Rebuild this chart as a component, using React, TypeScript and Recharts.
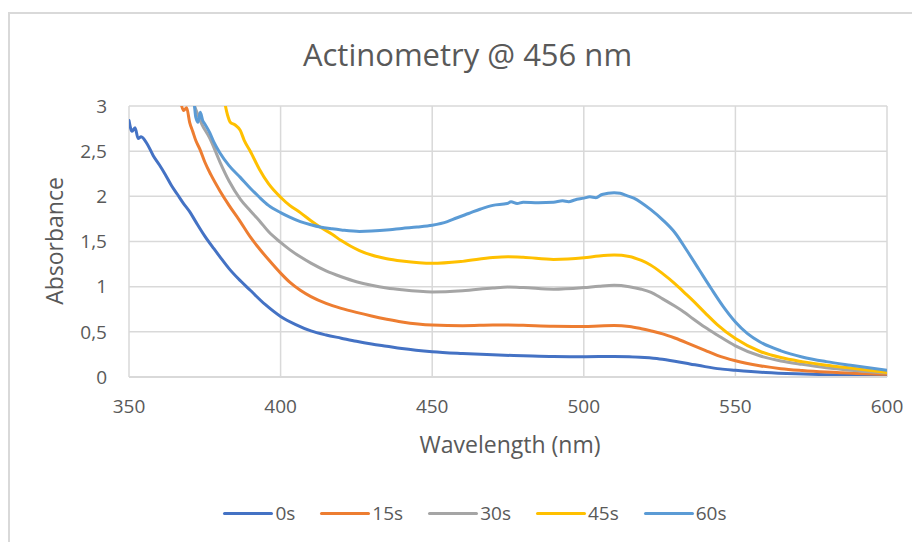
import React from "react";
import { LineChart, Line, XAxis, YAxis, CartesianGrid } from "recharts";

const TITLE = "Actinometry @ 456 nm";
const X_TITLE = "Wavelength (nm)";
const Y_TITLE = "Absorbance";

const xTicks = [350, 400, 450, 500, 550, 600];
const yTicks = [0, 0.5, 1, 1.5, 2, 2.5, 3];

const seriesNames = ["0s", "15s", "30s", "45s", "60s"];
const seriesColors = ["#4472C4", "#ED7D31", "#A5A5A5", "#FFC000", "#5B9BD5"];

// [wavelength nm, absorbance]
const s0: [number, number][] = [
  [350, 2.84], [351, 2.72], [352, 2.76], [353, 2.64], [354, 2.66], [356, 2.58], [358, 2.45],
  [360, 2.35], [362, 2.24], [364, 2.12], [366, 2.02], [368, 1.92], [370, 1.83], [372, 1.72],
  [375, 1.56], [378, 1.42], [380, 1.33], [383, 1.2], [386, 1.09], [390, 0.96], [395, 0.8],
  [400, 0.67], [405, 0.58], [410, 0.51], [415, 0.465], [420, 0.43], [425, 0.395], [430, 0.365],
  [435, 0.34], [440, 0.315], [450, 0.28], [460, 0.26], [470, 0.245], [480, 0.235], [490, 0.226],
  [500, 0.225], [510, 0.228], [515, 0.225], [520, 0.215], [525, 0.2], [530, 0.175], [535, 0.145],
  [540, 0.115], [545, 0.09], [550, 0.075], [560, 0.05], [570, 0.035], [580, 0.025], [590, 0.02],
  [600, 0.015],
];

const s15: [number, number][] = [
  [367, 3.05], [368, 2.95], [369, 2.98], [370, 2.82], [371, 2.72], [372, 2.62], [373.4, 2.52],
  [375, 2.38], [377, 2.24], [380, 2.06], [383, 1.9], [386.7, 1.72], [390, 1.55], [393, 1.42],
  [396, 1.3], [400, 1.15], [403, 1.05], [406.5, 0.96], [410, 0.89], [415, 0.815], [420, 0.76],
  [425, 0.715], [430, 0.675], [435, 0.64], [440, 0.61], [450, 0.575], [460, 0.568], [470, 0.575],
  [475, 0.576], [480, 0.572], [490, 0.562], [500, 0.56], [505, 0.565], [510, 0.57], [515, 0.56],
  [519, 0.535], [522, 0.512], [526, 0.478], [530, 0.432], [535, 0.365], [540, 0.295], [544, 0.24],
  [550, 0.18], [558, 0.125], [565, 0.092], [572, 0.072], [580, 0.055], [590, 0.04], [600, 0.03],
];

const s30: [number, number][] = [
  [371, 3.05], [373, 2.88], [374, 2.8], [376.7, 2.64], [380, 2.38], [383, 2.17], [386.7, 1.97],
  [390, 1.84], [393, 1.73], [396, 1.61], [400, 1.49], [403, 1.41], [406.5, 1.33], [410, 1.26],
  [415, 1.175], [420, 1.11], [425, 1.055], [430, 1.015], [435, 0.985], [440, 0.965], [450, 0.942],
  [460, 0.955], [470, 0.985], [475, 0.995], [480, 0.99], [490, 0.972], [500, 0.99], [505, 1.005],
  [510, 1.015], [515, 1.0], [519, 0.972], [522, 0.94], [526, 0.865], [530, 0.785], [533, 0.72],
  [536, 0.645], [540, 0.55], [544, 0.465], [550, 0.345], [558, 0.235], [565, 0.178], [572, 0.14],
  [580, 0.103], [588, 0.076], [600, 0.045],
];

const s45: [number, number][] = [
  [381.5, 3.05], [382.5, 2.9], [383.4, 2.82], [385, 2.79], [386.7, 2.73], [388, 2.62], [390, 2.5],
  [393, 2.3], [396, 2.14], [400, 1.99], [403, 1.9], [406.5, 1.82], [410, 1.73], [413, 1.66],
  [417, 1.58], [420, 1.51], [423, 1.45], [426, 1.4], [430, 1.35], [435, 1.31], [440, 1.285],
  [450, 1.258], [460, 1.28], [470, 1.322], [475, 1.33], [480, 1.325], [490, 1.302], [500, 1.32],
  [505, 1.34], [510, 1.35], [515, 1.335], [519, 1.29], [522, 1.24], [526, 1.145], [530, 1.035],
  [533, 0.94], [536, 0.845], [540, 0.71], [544, 0.58], [550, 0.425], [558, 0.285], [565, 0.215],
  [572, 0.17], [580, 0.13], [588, 0.1], [600, 0.05],
];

const s60: [number, number][] = [
  [371.5, 3.05], [372, 2.88], [372.8, 2.82], [373.5, 2.93], [374.3, 2.84], [375, 2.8],
  [376.7, 2.7], [378, 2.6], [380, 2.48], [383, 2.34], [386.7, 2.21], [390, 2.09], [393, 1.99],
  [396, 1.9], [400, 1.82], [403, 1.77], [406.5, 1.72], [410, 1.685], [413, 1.66], [417, 1.64],
  [420, 1.628], [426, 1.612], [430, 1.615], [436, 1.63], [440, 1.645], [445, 1.66], [450, 1.68],
  [455, 1.72], [458, 1.76], [462, 1.81], [466, 1.86], [470, 1.9], [474.7, 1.92], [476, 1.94],
  [478, 1.92], [480, 1.935], [485, 1.93], [490, 1.935], [493, 1.95], [495, 1.94], [497, 1.96],
  [500, 1.98], [502, 1.995], [504, 1.985], [506, 2.02], [510, 2.04], [512, 2.035], [514, 2.01],
  [516.5, 1.98], [519, 1.93], [522, 1.855], [526, 1.74], [530, 1.6], [534, 1.4], [538, 1.19],
  [542, 0.98], [546, 0.78], [550, 0.61], [554, 0.48], [558, 0.39], [565, 0.29], [572, 0.222],
  [580, 0.17], [588, 0.13], [600, 0.075],
];

const allSeries = [s0, s15, s30, s45, s60];

const FONT = "'Open Sans', sans-serif";
const TEXT = "#595959";
const GRID = "#d9d9d9";

const fmt = (v: number) => String(v).replace(".", ",");

export default function App() {
  const datasets = allSeries.map((s) => s.map(([nm, a]) => ({ nm, a })));
  return (
    <div style={{ position: "relative", width: 912, height: 534, fontFamily: FONT }}>
      <div
        style={{
          position: "absolute",
          left: 0,
          top: 4,
          width: 912,
          height: 530,
          borderTop: `2px solid ${GRID}`,
          borderLeft: `2px solid ${GRID}`,
          boxSizing: "border-box",
        }}
      />
      <div style={{ position: "absolute", left: 0, top: 0 }}>
        <LineChart
          width={912}
          height={534}
          margin={{ top: 98, right: 33, left: 61, bottom: 125 }}
        >
          <CartesianGrid stroke={GRID} strokeWidth={1.5} />
          <XAxis
            type="number"
            dataKey="nm"
            domain={[350, 600]}
            ticks={xTicks}
            allowDataOverflow
            height={40}
            tickLine={false}
            tickSize={0}
            tickMargin={23}
            axisLine={{ stroke: GRID, strokeWidth: 2 }}
            tick={{ fill: TEXT, fontSize: 19, fontFamily: FONT }}
          />
          <YAxis
            type="number"
            domain={[0, 3]}
            ticks={yTicks}
            allowDataOverflow
            width={60}
            tickLine={false}
            tickSize={0}
            tickMargin={22}
            axisLine={false}
            tickFormatter={fmt}
            tick={{ fill: TEXT, fontSize: 19, fontFamily: FONT }}
          />
          {datasets.map((d, i) => (
            <Line
              key={seriesNames[i]}
              data={d}
              dataKey="a"
              name={seriesNames[i]}
              type="monotone"
              stroke={seriesColors[i]}
              strokeWidth={3}
              strokeLinejoin="round"
              strokeLinecap="round"
              dot={false}
              activeDot={false}
              isAnimationActive={false}
            />
          ))}
        </LineChart>
      </div>
      <svg
        width={912}
        height={534}
        style={{ position: "absolute", left: 0, top: 0, pointerEvents: "none" }}
      >
        <text x={459.5} y={58} textAnchor="middle" fontSize={31} fill={TEXT} fontFamily={FONT}>
          {TITLE}
        </text>
        <text x={502} y={445} textAnchor="middle" fontSize={23} fill={TEXT} fontFamily={FONT}>
          {X_TITLE}
        </text>
        <text
          x={0}
          y={0}
          textAnchor="middle"
          fontSize={23}
          fill={TEXT}
          fontFamily={FONT}
          transform="translate(55,233) rotate(-90)"
        >
          {Y_TITLE}
        </text>
      </svg>
      <div
        style={{
          position: "absolute",
          left: 0,
          top: 493,
          width: 912,
          paddingLeft: 22,
          boxSizing: "border-box",
          display: "flex",
          justifyContent: "center",
          alignItems: "center",
          gap: 25,
        }}
      >
        {seriesNames.map((n, i) => (
          <div key={n} style={{ display: "flex", alignItems: "center" }}>
            <div
              style={{
                width: 50,
                height: 3,
                borderRadius: 2,
                background: seriesColors[i],
                marginRight: 2,
              }}
            />
            <span style={{ fontSize: 19, color: TEXT, lineHeight: "24px" }}>{n}</span>
          </div>
        ))}
      </div>
    </div>
  );
}
